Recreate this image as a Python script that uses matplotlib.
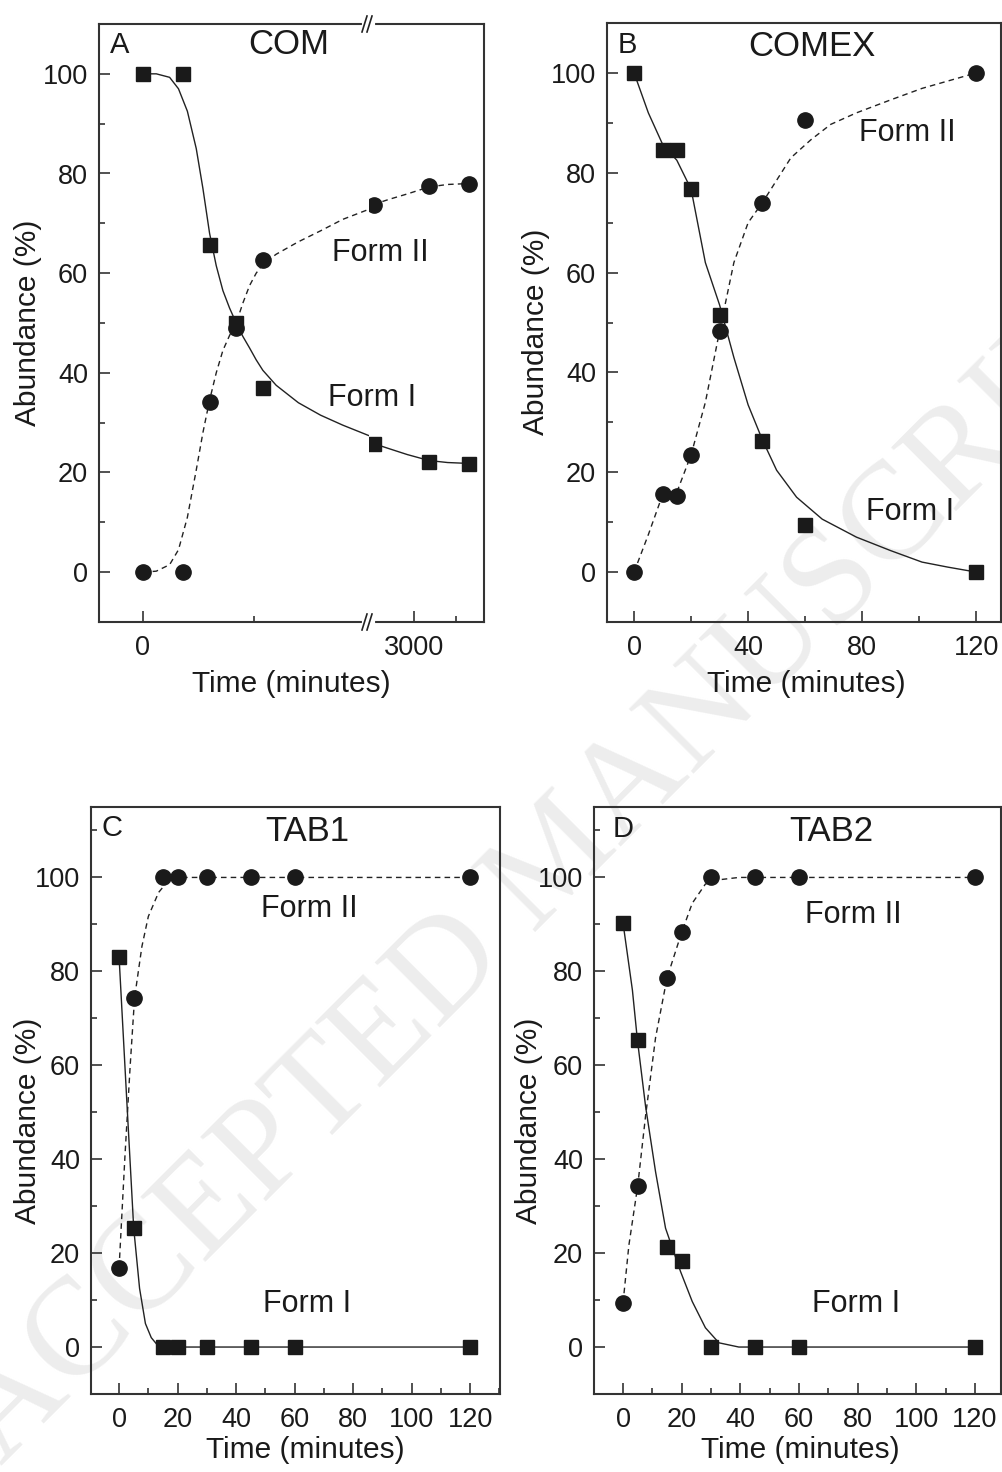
import matplotlib
matplotlib.use('Agg')
import matplotlib.pyplot as plt
from matplotlib.lines import Line2D
from matplotlib.ticker import FixedLocator

plt.rcParams['font.family'] = ['Liberation Sans', 'DejaVu Sans']

W, H = 1003, 1472
ink = '#1a1a1a'

# ---------------- data ----------------
# Panel A (COM): time axis broken between the early and the late part
com_t_early = [0, 90, 150, 210, 270]
com_form1_early = [100, 100, 65.6, 50.0, 37.0]
com_form2_early = [0, 0, 34.1, 48.9, 62.7]
com_t_late = [2760, 3090, 3330]
com_form1_late = [25.8, 22.1, 21.8]
com_form2_late = [73.6, 77.5, 77.9]

# fitted curves
com_fit_t_early = [0, 30, 60, 80, 100, 120, 135, 150, 165, 180, 195, 210, 225, 240,
                   255, 270, 300, 350, 400, 450, 520]
com_fit1_early = [100, 100, 99.3, 97, 92.5, 85, 77, 68, 61.5, 56.5, 53, 50, 47.3, 45,
                  42.6, 40.5, 37.5, 34, 31.5, 29.5, 27]
com_fit2_early = [0, 0.2, 1.5, 4.5, 11, 20.5, 28, 34.5, 40, 44.5, 47.5, 50, 54, 57.5,
                  60, 61.8, 63.8, 66.3, 68.5, 70.8, 73.2]
com_fit_t_late = [2700, 2760, 2850, 2960, 3090, 3200, 3340]
com_fit1_late = [26.3, 25.8, 24.8, 23.6, 22.4, 22.0, 21.8]
com_fit2_late = [73.4, 73.8, 74.8, 75.9, 77.3, 77.8, 78.0]

# Panel B (COMEX)
comex_t = [0, 10, 15, 20, 30, 45, 60, 120]
comex_form1 = [100, 84.5, 84.5, 76.7, 51.5, 26.2, 9.5, 0]
comex_form2 = [0, 15.7, 15.2, 23.5, 48.3, 73.9, 90.6, 100]
comex_fit1_t = [0, 5, 10, 15, 20, 25, 30, 35, 40, 45, 50, 57, 66, 78, 90, 101, 110, 120]
comex_fit1 = [100, 92, 85.7, 82.5, 76.7, 62, 53.5, 43, 33.5, 26.5, 20.4, 15, 10.6, 7,
              4.3, 2, 1, 0]
comex_fit2_t = [0, 5, 10, 15, 20, 25, 30, 35, 40, 45, 50, 55, 62, 69, 78, 90, 101, 120]
comex_fit2 = [0, 7.5, 15.5, 16, 23.5, 34, 48.3, 62, 70, 74, 78.5, 83, 86.6, 89.7, 92,
              94.6, 96.9, 100]

# Panel C (TAB1)
tab1_t = [0, 5, 15, 20, 30, 45, 60, 120]
tab1_form1 = [83.1, 25.3, 0, 0, 0, 0, 0, 0]
tab1_form2 = [16.9, 74.4, 100, 100, 100, 100, 100, 100]
tab1_fit1_t = [0, 2.5, 5, 7, 9, 11, 13, 15, 120]
tab1_fit1 = [83, 54, 25.3, 12.5, 5, 2, 0.5, 0, 0]
tab1_fit2_t = [0, 2, 3.8, 5.3, 7.8, 10, 13.5, 16.4, 20, 120]
tab1_fit2 = [16.9, 40.6, 60, 74.4, 85.3, 91.7, 96.8, 99, 100, 100]

# Panel D (TAB2)
tab2_t = [0, 5, 15, 20, 30, 45, 60, 120]
tab2_form1 = [90.3, 65.4, 21.2, 18.4, 0, 0, 0, 0]
tab2_form2 = [9.4, 34.3, 78.6, 88.3, 100, 100, 100, 100]
tab2_fit1_t = [0, 3.2, 4.9, 7.7, 11.1, 14.5, 19.6, 23.6, 28.1, 32.7, 39.5, 120]
tab2_fit1 = [90.3, 76, 65.4, 51.2, 37.3, 25.3, 16.1, 9.7, 4.1, 0.9, 0, 0]
tab2_fit2_t = [0, 2, 5, 7.7, 11.1, 15, 20, 23.6, 28.1, 32.7, 39.5, 120]
tab2_fit2 = [9.4, 21.7, 34.3, 49.3, 65.9, 78.6, 88.3, 94.5, 98.6, 99.5, 100, 100]

y_major = [0, 20, 40, 60, 80, 100]
y_minor = [10, 30, 50, 70, 90, 110]

tick_fs = 19.5
label_fs = 21.5
title_fs = 25
form_fs = 22
letter_fs = 21


def box(l, t, r, b):
    return [l / W, 1 - b / H, (r - l) / W, (b - t) / H]


def fx(x):
    return x / W


def fy(y):
    return 1 - y / H


def style(ax):
    ax.set_facecolor('none')
    for s in ax.spines.values():
        s.set_linewidth(1.5)
        s.set_color('#333333')
    ax.tick_params(which='both', direction='in', top=False, right=False,
                   color='#333333', labelcolor=ink, labelsize=tick_fs, pad=8)
    ax.tick_params(axis='x', which='both', pad=9.5)
    ax.tick_params(which='major', length=8, width=1.2)
    ax.tick_params(which='minor', length=4, width=1.2)


def draw(ax, t, f1, f2, ft1, fit1, ft2, fit2):
    ax.plot(ft1, fit1, '-', color='#222222', lw=1.0, zorder=2)
    ax.plot(ft2, fit2, '--', color='#222222', lw=1.0, dashes=(4, 3), zorder=2)
    ax.plot(t, f1, 's', color=ink, ms=10, zorder=3)
    ax.plot(t, f2, 'o', color=ink, ms=11, zorder=3)


fig = plt.figure(figsize=(W / 100, H / 100), dpi=100)

# watermark behind the panels (it runs off the page in the original too)
fig.text(fx(560), fy(860), 'ACCEPTED MANUSCRIPT', rotation=45, fontsize=100,
         family='Liberation Serif', color='#ededed', ha='center', va='center',
         zorder=-5)

# ---- Panel A (broken x axis) ----
axl = fig.add_axes(box(99, 24, 369, 622))
axr = fig.add_axes(box(369, 24, 484, 622), sharey=axl)
for ax in (axl, axr):
    style(ax)
    ax.set_ylim(-10, 110)
axl.spines['right'].set_visible(False)
axr.spines['left'].set_visible(False)
axl.set_xlim(-99, 509)
axr.set_xlim(2732, 3417)
draw(axl, com_t_early, com_form1_early, com_form2_early,
     com_fit_t_early, com_fit1_early, com_fit_t_early, com_fit2_early)
draw(axr, com_t_late, com_form1_late, com_form2_late,
     com_fit_t_late, com_fit1_late, com_fit_t_late, com_fit2_late)
axl.xaxis.set_major_locator(FixedLocator([0]))
axl.xaxis.set_minor_locator(FixedLocator([250]))
axr.xaxis.set_major_locator(FixedLocator([3000]))
axr.xaxis.set_minor_locator(FixedLocator([3250]))
axl.yaxis.set_major_locator(FixedLocator(y_major))
axl.yaxis.set_minor_locator(FixedLocator(y_minor))
axr.tick_params(axis='y', which='both', left=False, labelleft=False)
axl.set_ylabel('Abundance (%)', fontsize=label_fs, color=ink)
axl.yaxis.set_label_coords(-0.211, 0.5)

# break marks on the time axis
for yb in (24, 622):
    fig.add_artist(Line2D([fx(364), fx(373)], [fy(yb), fy(yb)], color='white', lw=3))
    for dx in (0, 5):
        fig.add_artist(Line2D([fx(362 + dx), fx(367 + dx)], [fy(yb + 8), fy(yb - 8)],
                              color='#222222', lw=1.2))

# ---- Panels B, C, D ----
axb = fig.add_axes(box(607, 23, 1001, 622))
axc = fig.add_axes(box(91, 807, 500, 1394))
axd = fig.add_axes(box(594, 807, 1001, 1394))

draw(axb, comex_t, comex_form1, comex_form2, comex_fit1_t, comex_fit1, comex_fit2_t, comex_fit2)
draw(axc, tab1_t, tab1_form1, tab1_form2, tab1_fit1_t, tab1_fit1, tab1_fit2_t, tab1_fit2)
draw(axd, tab2_t, tab2_form1, tab2_form2, tab2_fit1_t, tab2_fit1, tab2_fit2_t, tab2_fit2)

for ax in (axb, axc, axd):
    style(ax)
    ax.yaxis.set_major_locator(FixedLocator(y_major))
    ax.yaxis.set_minor_locator(FixedLocator(y_minor))
    ax.set_ylabel('Abundance (%)', fontsize=label_fs, color=ink)
    ax.set_xlabel('Time (minutes)', fontsize=label_fs, color=ink)

axb.set_ylim(-10, 110)
axb.set_xlim(-9.5, 128.7)
axb.xaxis.set_major_locator(FixedLocator([0, 40, 80, 120]))
axb.xaxis.set_minor_locator(FixedLocator([20, 60, 100]))
axb.yaxis.set_label_coords(-0.145, 0.485)
axb.xaxis.set_label_coords(0.505, -0.08)

for ax, xl in ((axc, (-9.6, 130.2)), (axd, (-9.9, 128.9))):
    ax.set_ylim(-10, 115)
    ax.set_xlim(*xl)
    ax.xaxis.set_major_locator(FixedLocator([0, 20, 40, 60, 80, 100, 120]))
    ax.xaxis.set_minor_locator(FixedLocator([10, 30, 50, 70, 90, 110, 130]))
axc.yaxis.set_label_coords(-0.12, 0.465)
axc.xaxis.set_label_coords(0.523, -0.072)
axd.yaxis.set_label_coords(-0.125, 0.465)
axd.xaxis.set_label_coords(0.507, -0.072)

# x label of panel A, centred under the whole broken axis
fig.text(fx(291), fy(684), 'Time (minutes)', fontsize=label_fs, color=ink,
         ha='center', va='center')

# ---- panel letters, titles and series labels ----
labels = [
    (120, 45, 'A', letter_fs), (289, 45, 'COM', title_fs),
    (380, 253, 'Form II', form_fs), (372, 398, 'Form I', form_fs),
    (627, 45, 'B', letter_fs), (812, 47, 'COMEX', title_fs),
    (907, 133, 'Form II', form_fs), (910, 512, 'Form I', form_fs),
    (112, 828, 'C', letter_fs), (307, 832, 'TAB1', title_fs),
    (309, 909, 'Form II', form_fs), (307, 1304, 'Form I', form_fs),
    (623, 829, 'D', letter_fs), (831, 832, 'TAB2', title_fs),
    (853, 915, 'Form II', form_fs), (856, 1304, 'Form I', form_fs),
]
for x, y, s, size in labels:
    fig.text(fx(x), fy(y), s, fontsize=size, color=ink, ha='center', va='center')

fig.savefig('out.png', dpi=100)
